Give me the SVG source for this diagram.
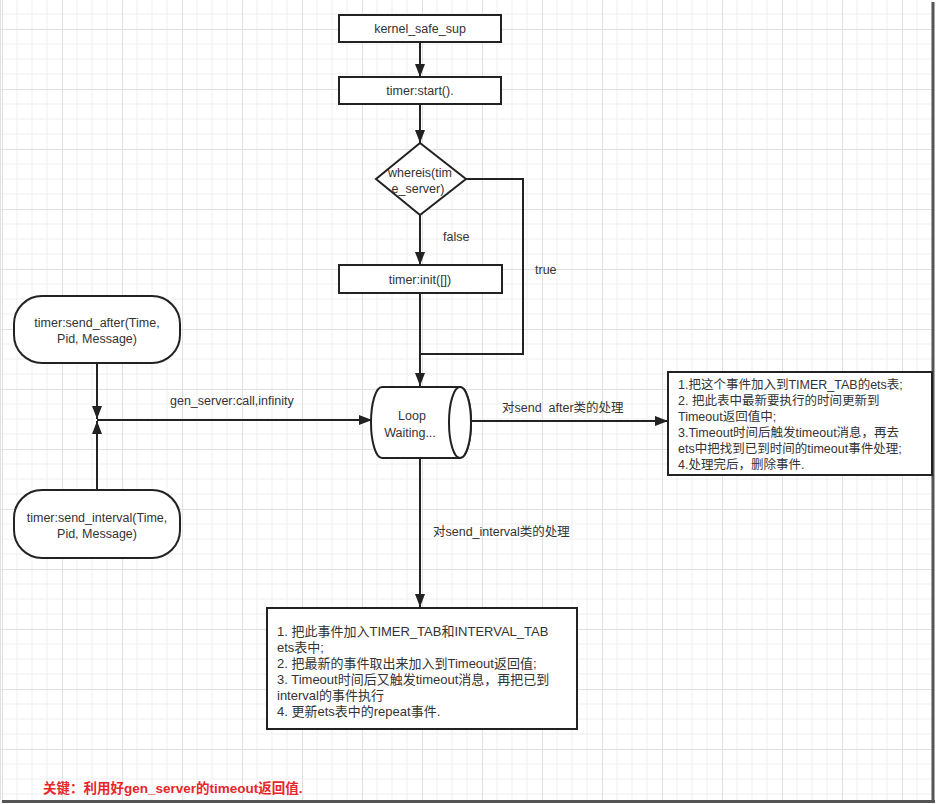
<svg xmlns="http://www.w3.org/2000/svg" width="936" height="804" viewBox="0 0 936 804">
  <defs>
    <pattern id="grid" x="2" y="29" width="60" height="60" patternUnits="userSpaceOnUse">
      <path d="M15,0 V60 M30,0 V60 M45,0 V60 M0,15 H60 M0,30 H60 M0,45 H60" stroke="#efefef" stroke-width="1" fill="none"/>
      <path d="M0.5,0 V60 M0,0.5 H60" stroke="#e0e0e0" stroke-width="1" fill="none"/>
    </pattern>
    <marker id="arr" markerUnits="userSpaceOnUse" markerWidth="14" markerHeight="12" refX="13" refY="5" orient="auto">
      <path d="M0,0 L13,5 L0,10 Z" fill="#222"/>
    </marker>
    <style>
      .box { fill: #ffffff; stroke: #222; stroke-width: 2; }
      .conn { fill: none; stroke: #222; stroke-width: 2; }
      .t { font-family: "Liberation Sans", "Noto Sans CJK SC", sans-serif; font-size: 12.5px; fill: #333; }
      .c { text-anchor: middle; }
      .bt { font-family: "Liberation Sans", "Noto Sans CJK SC", sans-serif; font-size: 12.5px; fill: #333; }
      .bt2 { font-family: "Liberation Sans", "Noto Sans CJK SC", sans-serif; font-size: 13px; fill: #333; }
      .key { font-family: "Liberation Sans", "Noto Sans CJK SC", sans-serif; font-size: 13.5px; font-weight: bold; fill: #e8262a; }
    </style>
  </defs>

  <rect x="0" y="0" width="936" height="804" fill="#ffffff"/>
  <rect x="0" y="0" width="932" height="800" fill="url(#grid)"/>
  <path d="M933,2 V801 M2,801.5 H935" stroke="#555" stroke-width="3" fill="none"/>
  <path d="M0.5,0 V800" stroke="#e2e2e2" stroke-width="1"/>

  <g id="connectors">
    <path class="conn" d="M420,42 V77" marker-end="url(#arr)"/>
    <path class="conn" d="M420,104 V143" marker-end="url(#arr)"/>
    <path class="conn" d="M420,215 V265" marker-end="url(#arr)"/>
    <path class="conn" d="M466,179 H523 V354 H420"/>
    <path class="conn" d="M420,293 V386" marker-end="url(#arr)"/>
    <path class="conn" d="M97,363 V419" marker-end="url(#arr)"/>
    <path class="conn" d="M97,490 V421" marker-end="url(#arr)"/>
    <path class="conn" d="M97,420 H372" marker-end="url(#arr)"/>
    <path class="conn" d="M471,421 H668" marker-end="url(#arr)"/>
    <path class="conn" d="M420,458 V607" marker-end="url(#arr)"/>
    <text class="t" x="443" y="241">false</text>
    <text class="t" x="535" y="274">true</text>
    <text class="t" x="170" y="405">gen_server:call,infinity</text>
    <text class="t" x="502" y="412" style="white-space:pre">对send  after类的处理</text>
    <text class="t" x="433" y="536">对send_interval类的处理</text>
  </g>

  <g id="kernel_safe_sup">
    <rect class="box" x="339" y="15" width="162" height="27"/>
    <text class="t c" x="420" y="33">kernel_safe_sup</text>
  </g>

  <g id="timer_start">
    <rect class="box" x="339" y="77" width="162" height="27"/>
    <text class="t c" x="420" y="95">timer:start().</text>
  </g>

  <g id="whereis">
    <path class="box" d="M420,143 L466,179 L420,215 L376,179 Z"/>
    <text class="t c" x="420" y="177">whereis(tim</text>
    <text class="t c" x="418" y="193">e_server)</text>
  </g>

  <g id="timer_init">
    <rect class="box" x="339" y="265" width="163" height="28"/>
    <text class="t c" x="420" y="284">timer:init([])</text>
  </g>

  <g id="send_after">
    <rect class="box" x="14" y="296" width="166" height="67" rx="28" ry="28"/>
    <text class="t c" x="97" y="327">timer:send_after(Time,</text>
    <text class="t c" x="97" y="343">Pid, Message)</text>
  </g>

  <g id="send_interval">
    <rect class="box" x="14" y="490" width="166" height="68" rx="28" ry="28"/>
    <text class="t c" x="97" y="522">timer:send_interval(Time,</text>
    <text class="t c" x="97" y="538">Pid, Message)</text>
  </g>

  <g id="loop_waiting">
    <path class="box" d="M382,387 H460 A11,35.5 0 0 1 460,458 H382 A11,35.5 0 0 1 382,387 Z"/>
    <ellipse class="box" cx="460" cy="422.5" rx="11" ry="35.5"/>
    <text class="t c" x="412" y="420">Loop</text>
    <text class="t c" x="410" y="437">Waiting...</text>
  </g>

  <g id="send_after_handling">
    <rect class="box" x="668" y="372" width="264" height="103"/>
    <text class="bt" x="678" y="389">1.把这个事件加入到TIMER_TAB的ets表;</text>
    <text class="bt" x="678" y="405">2. 把此表中最新要执行的时间更新到</text>
    <text class="bt" x="678" y="421">Timeout返回值中;</text>
    <text class="bt" x="678" y="437">3.Timeout时间后触发timeout消息，再去</text>
    <text class="bt" x="678" y="453">ets中把找到已到时间的timeout事件处理;</text>
    <text class="bt" x="678" y="469">4.处理完后，删除事件.</text>
  </g>

  <g id="send_interval_handling">
    <rect class="box" x="267" y="608" width="310" height="121"/>
    <text class="bt2" x="277" y="636">1. 把此事件加入TIMER_TAB和INTERVAL_TAB</text>
    <text class="bt2" x="277" y="652">ets表中;</text>
    <text class="bt2" x="277" y="668">2. 把最新的事件取出来加入到Timeout返回值;</text>
    <text class="bt2" x="277" y="684">3. Timeout时间后又触发timeout消息，再把已到</text>
    <text class="bt2" x="277" y="700">interval的事件执行</text>
    <text class="bt2" x="277" y="716">4. 更新ets表中的repeat事件.</text>
  </g>

  <text class="key" x="43" y="793">关键：利用好gen_server的timeout返回值.</text>
</svg>
